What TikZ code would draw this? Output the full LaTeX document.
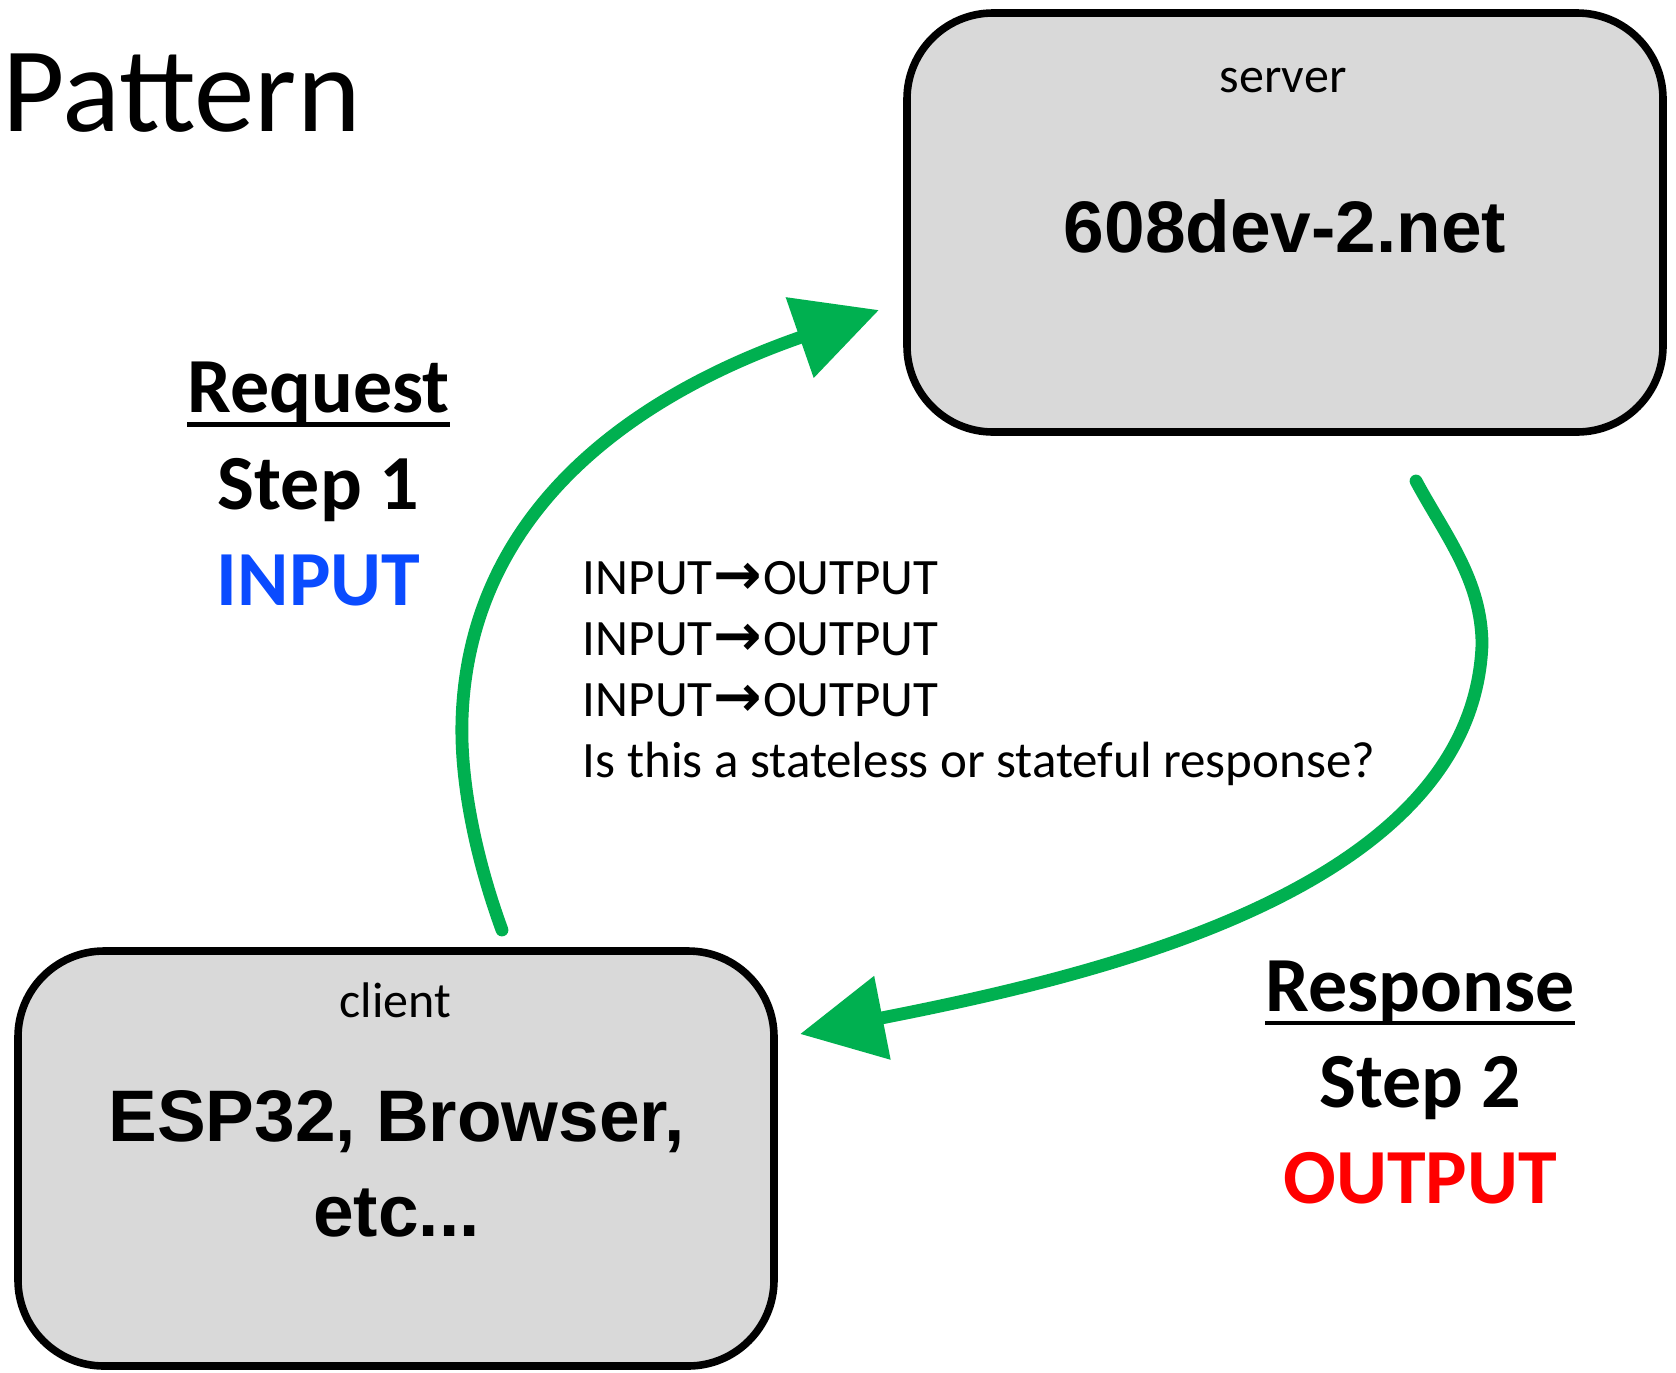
\documentclass[tikz,border=0pt]{standalone}
\usepackage{fontspec}
\setmainfont{Carlito}
\newfontfamily\boldsans{Liberation Sans}
\newfontfamily\arrowfont{DejaVu Sans}
\newsavebox{\ulbox}
\newcommand{\thickul}[1]{\sbox{\ulbox}{#1}\rlap{\rule[-7pt]{\wd\ulbox}{2.1pt}}\usebox{\ulbox}}
\usetikzlibrary{arrows.meta}
\definecolor{boxgray}{HTML}{D9D9D9}
\definecolor{arrowgreen}{HTML}{00B050}
\definecolor{inblue}{RGB}{10,75,255}
\definecolor{outred}{HTML}{FF0000}
\tikzset{
  box/.style={draw=black, line width=3.8pt, fill=boxgray, rounded corners=43pt, inner sep=0pt},
  smalllbl/.style={font=\fontsize{25}{30}\selectfont, anchor=base, inner sep=0pt},
  bigbold/.style={font=\boldsans\bfseries\fontsize{36.5}{43}\selectfont, anchor=base, inner sep=0pt},
  steplbl/.style={font=\bfseries\fontsize{39}{47}\selectfont, anchor=base, inner sep=0pt},
  midtxt/.style={font=\fontsize{25.5}{30}\selectfont, anchor=base west, inner sep=0pt},
  flow/.style={draw=arrowgreen, line width=6.4pt, line cap=round, -{Triangle[length=42pt,width=41pt]}},
}
\newcommand{\ioarrow}{\kern0.5pt\raisebox{-0.3pt}{\arrowfont\bfseries\fontsize{29}{30}\selectfont →}\kern0.5pt}
\begin{document}
\begin{tikzpicture}[x=0.5pt,y=-0.5pt]
\useasboundingbox[fill=white] (0,0) rectangle (1676,1372);

% title
\node[font=\fontsize{60.5}{72}\selectfont, anchor=base west, inner sep=0pt] (title) at (2,131.5) {Pattern};

% boxes
\node[box, minimum width=378pt, minimum height=209.5pt] (server) at (1285,222.5) {};
\node[box, minimum width=378pt, minimum height=207.5pt] (client) at (396,1158.5) {};

\node[smalllbl] (serverlbl) at (1283,92) {server};
\node[bigbold] (servername) at (1285,252) {608dev-2.net};

\node[smalllbl] (clientlbl) at (395.5,1017.5) {client};
\node[bigbold] (clientname1) at (396.5,1141.5) {ESP32, Browser,};
\node[bigbold] (clientname2) at (396.5,1236.5) {etc...};

% request labels
\node[steplbl] (reqlbl) at (318.5,412.5) {\thickul{Request}};
\node[steplbl] (step1) at (318.5,509) {Step 1};
\node[steplbl, text=inblue] (inlbl) at (318.5,605) {INPUT};

% response labels
\node[steplbl] (reslbl) at (1420,1011) {\thickul{Response}};
\node[steplbl] (step2) at (1420,1107) {Step 2};
\node[steplbl, text=outred] (outlbl) at (1420,1203.5) {OUTPUT};

% middle text
\node[midtxt] (io1) at (582.5,594) {INPUT\ioarrow OUTPUT};
\node[midtxt] (io2) at (582.5,655) {INPUT\ioarrow OUTPUT};
\node[midtxt] (io3) at (582.5,716) {INPUT\ioarrow OUTPUT};
\node[midtxt] (question) at (582.5,777) {Is this a stateless or stateful response?};

% arrows
\coordinate (reqstart) at (502,930);
\coordinate (reqend) at (879,310);
\coordinate (resstart) at (1416,481);
\coordinate (resend) at (800,1034);

\draw[flow] (reqstart) .. controls (480,870) and (460,790) .. (462,720)
  .. controls (468,520) and (620,400) .. (reqend);
\draw[flow] (resstart) .. controls (1445,535) and (1482,580) .. (1482,645)
  .. controls (1472,889) and (1100,975) .. (resend);
\end{tikzpicture}
\end{document}
